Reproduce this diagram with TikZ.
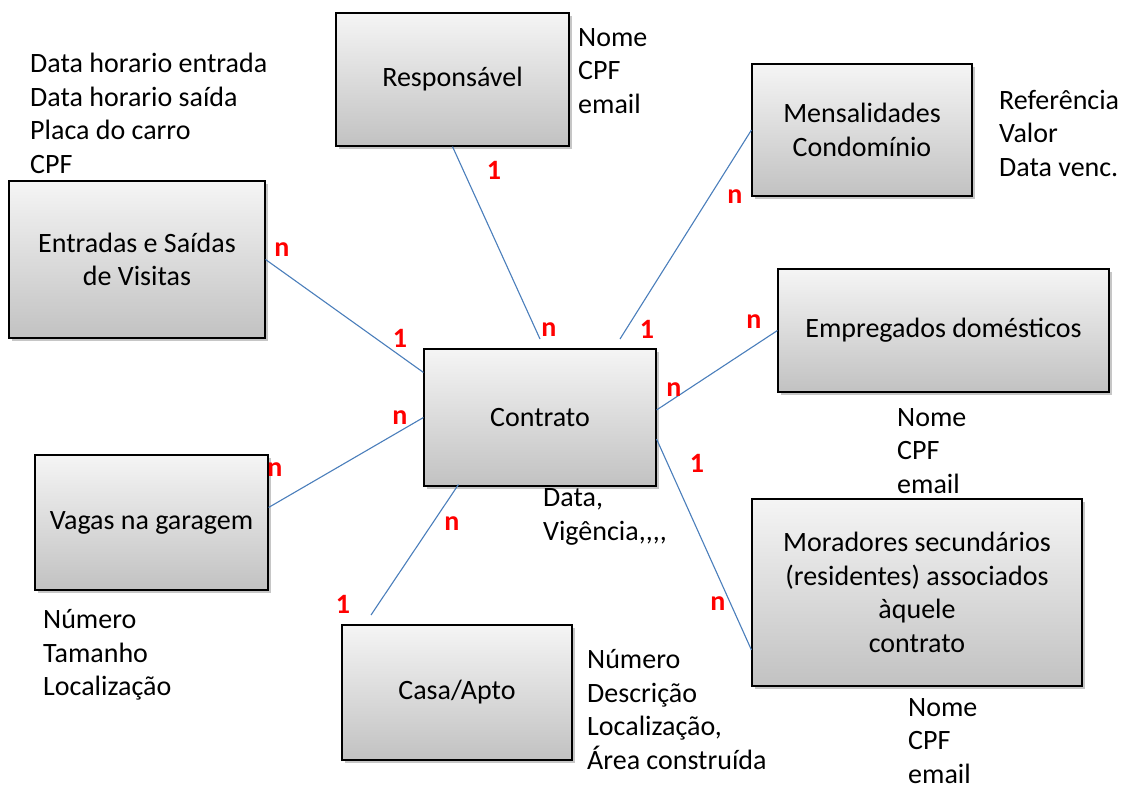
\documentclass[tikz,border=0pt]{standalone}
\usepackage{fontspec}
\setmainfont{Carlito}
\usetikzlibrary{shadows,calc}
\definecolor{linkblue}{RGB}{74,126,187}
\definecolor{cardred}{RGB}{255,0,0}
\begin{document}
\begin{tikzpicture}[x=1pt,y=-1pt,
  txt/.style={font=\fontsize{28}{33.5}\selectfont},
  ent/.style={txt, draw=black, line width=1.1pt, top color=gray!8, bottom color=gray!48,
    align=center, inner sep=0pt,
    drop shadow={opacity=0.45, shadow xshift=2.5pt, shadow yshift=-2.5pt}},
  attr/.style={txt, align=left, anchor=west, inner sep=0pt},
  link/.style={draw=linkblue, line width=1.1pt},
  card/.style={font=\fontsize{28}{30}\selectfont\bfseries, text=cardred, inner sep=0pt}]
\useasboundingbox (0,0) rectangle (1125,787);
% entities
\node[ent, minimum width=233pt, minimum height=133pt] (resp) at (452.5,79.5) {Responsável};
\node[ent, minimum width=220pt, minimum height=132pt] (mens) at (862,130) {Mensalidades\\Condomínio};
\node[ent, minimum width=256pt, minimum height=157pt] (entr) at (137,259.5) {Entradas e Saídas\\de Visitas};
\node[ent, minimum width=232pt, minimum height=137pt] (contr) at (540,417.5) {Contrato};
\node[ent, minimum width=331pt, minimum height=123pt] (empr) at (943.5,330.5) {Empregados domésticos};
\node[ent, minimum width=233pt, minimum height=135pt] (vagas) at (151.5,522.5) {Vagas na garagem};
\node[ent, minimum width=230pt, minimum height=135pt] (casa) at (457,692.5) {Casa/Apto};
\node[ent, minimum width=330pt, minimum height=187pt] (mor) at (917,592.5) {Moradores secundários\\(residentes) associados\\àquele\\contrato};
% attributes
\node[attr] (a1) at (30,113.5) {Data horario entrada\\Data horario saída\\Placa do carro\\CPF};
\node[attr] (a2) at (578,71) {Nome\\CPF\\email};
\node[attr] (a3) at (999,133) {Referência\\Valor\\Data venc.};
\node[attr] (a4) at (897,451) {Nome\\CPF\\email};
\node[attr] (a5) at (543,517) {Data,\\Vigência,{},{},{},};
\node[attr] (a6) at (43,655) {Número\\Tamanho\\Localização};
\node[attr] (a7) at (587,709.5) {Número\\Descrição\\Localização,\\Área construída};
\node[attr] (a8) at (908,741) {Nome\\CPF\\email};
% free ends
\coordinate (c1) at (540,339);
\coordinate (c2) at (620,339);
\coordinate (c3) at (371,615);
% links
\draw[link] (resp.south) -- (c1);
\draw[link] (mens.west) -- (c2);
\draw[link] (entr.east) -- ($(contr.north west)+(0,24)$);
\draw[link] (empr.west) -- ($(contr.east)+(0,-7.5)$);
\draw[link] ($(vagas.east)+(0,-15)$) -- (contr.west);
\draw[link] ($(contr.south west)+(35,-2)$) -- (c3);
\draw[link] ($(contr.east)+(0,21.5)$) -- ($(mor.west)+(0,57.5)$);
% cardinalities
\node[card] (k1) at (494,170) {1};
\node[card] (k2) at (282,250) {n};
\node[card] (k3) at (400,338) {1};
\node[card] (k4) at (549,330) {n};
\node[card] (k5) at (647,329) {1};
\node[card] (k6) at (735,197) {n};
\node[card] (k7) at (754,322) {n};
\node[card] (k8) at (674,390) {n};
\node[card] (k9) at (400,418) {n};
\node[card] (k10) at (275,470) {n};
\node[card] (k11) at (697,463) {1};
\node[card] (k12) at (452,524) {n};
\node[card] (k13) at (343,604) {1};
\node[card] (k14) at (718,604) {n};
\end{tikzpicture}
\end{document}
